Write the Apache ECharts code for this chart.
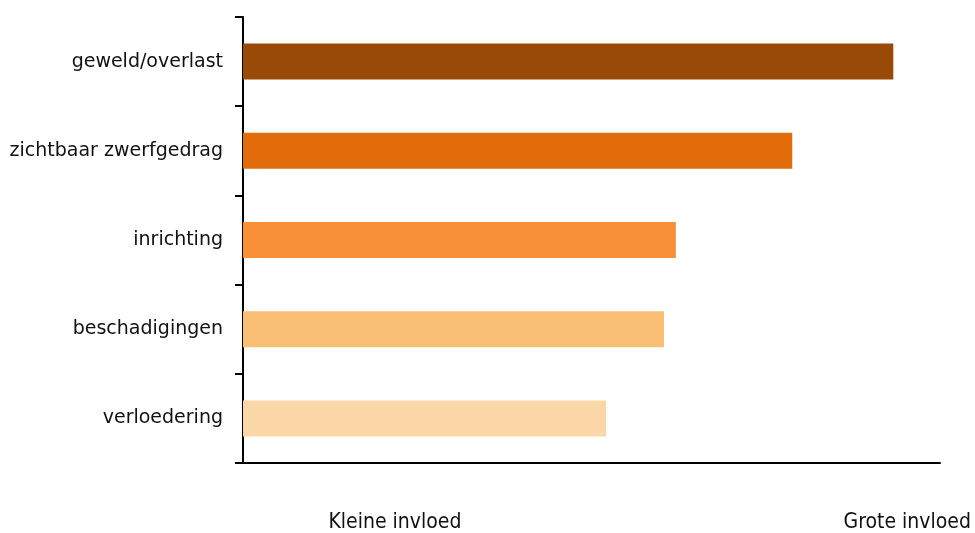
<!DOCTYPE html>
<html>
<head>
<meta charset="utf-8">
<script src="https://cdn.jsdelivr.net/npm/echarts@6/dist/echarts.min.js"></script>
<style>html,body{margin:0;padding:0;background:#fff}#c{width:975px;height:533px}</style>
</head>
<body>
<div id="c"></div>
<script>
var categories = ['geweld/overlast', 'zichtbaar zwerfgedrag', 'inrichting', 'beschadigingen', 'verloedering'];
var values = [93.3, 78.8, 62.1, 60.4, 52.1];
var barColors = ['#994A07', '#E36C0A', '#F79036', '#F9BF74', '#FBD6A6'];
var scaleLabelValues = [21.8, 95.3];
var scaleLabels = ['Kleine invloed', 'Grote invloed'];

var chart = echarts.init(document.getElementById('c'), null, {renderer: 'canvas'});
chart.setOption({
  animation: false,
  backgroundColor: '#fff',
  grid: {left: 243, right: 35, top: 17, bottom: 64, containLabel: false},
  xAxis: {
    type: 'value', min: 0, max: 100,
    splitLine: {show: false},
    axisLine: {show: true, onZero: false, lineStyle: {color: '#000', width: 2}},
    axisTick: {show: false},
    axisLabel: {
      show: true,
      customValues: scaleLabelValues,
      margin: 49,
      color: '#111',
      fontSize: 21,
      fontFamily: '"Liberation Sans Narrow", "DejaVu Sans Condensed", sans-serif',
      formatter: function (v) {
        var i = scaleLabelValues.indexOf(v);
        return i >= 0 ? scaleLabels[i] : '';
      }
    }
  },
  yAxis: {
    type: 'category', inverse: true, data: categories,
    axisLine: {show: true, lineStyle: {color: '#000', width: 2}},
    axisTick: {show: true, length: 8, lineStyle: {color: '#000', width: 2}},
    axisLabel: {color: '#111', fontSize: 19, margin: 20, fontFamily: '"DejaVu Sans", sans-serif'},
    splitLine: {show: false}
  },
  series: [{
    type: 'bar',
    barWidth: 36,
    data: values.map(function (v, i) { return {value: v, itemStyle: {color: barColors[i]}}; })
  }]
});
</script>
</body>
</html>
